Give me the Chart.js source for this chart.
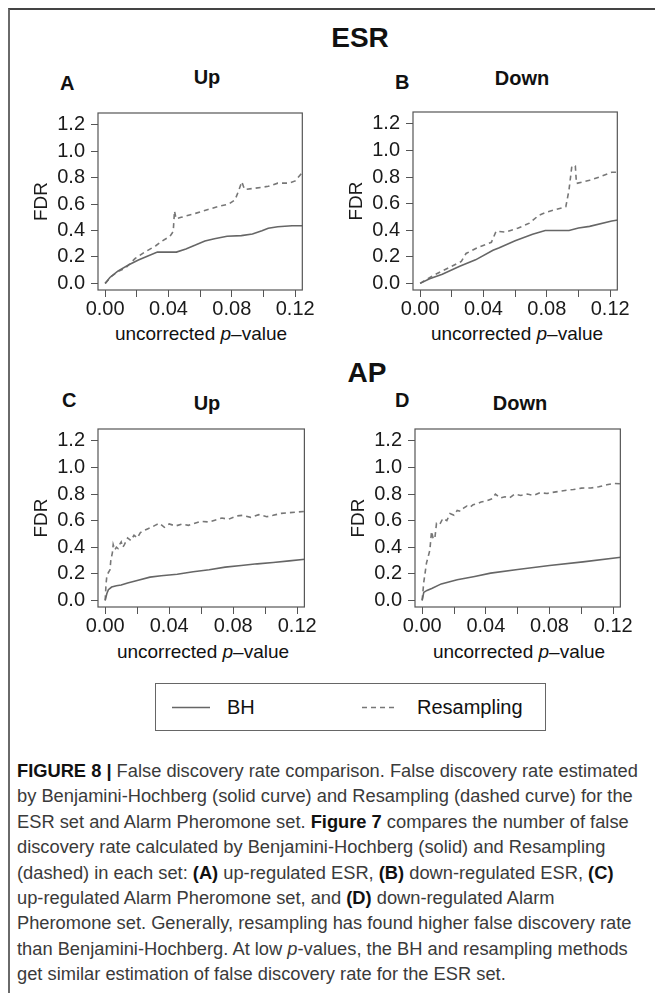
<!DOCTYPE html>
<html>
<head>
<meta charset="utf-8">
<script src="https://cdn.jsdelivr.net/npm/chart.js@4.4.0/dist/chart.umd.min.js"></script>
<style>
  body { margin: 0; background: #fff; font-family: "Liberation Sans", Arial, Helvetica, sans-serif; }
  #page { position: relative; width: 655px; height: 993px; overflow: hidden; background: #fff; }
  .frame { position: absolute; left: 8px; top: 8px; right: -4px; bottom: -4px;
           border-top: 2px solid #444; border-left: 2px solid #6a6a6a; }
  .t { position: absolute; white-space: nowrap; line-height: 1; color: #111; }
  .c { transform: translateX(-50%); }
  .b { font-weight: bold; }
  canvas { position: absolute; }
  .legend { position: absolute; left: 155px; top: 683px; width: 389px; height: 46px;
            border: 1px solid #666; }
  .legend svg { position: absolute; left: 0; top: 0; }
  .legend span { position: absolute; top: 13px; font-size: 20px; line-height: 20px; color: #111; }
  .caption { position: absolute; left: 17px; top: 758px; font-size: 18.3px; line-height: 25.4px;
             color: #3a3a3a; white-space: nowrap; }
  .caption b { color: #111; }
</style>
</head>
<body>
<div id="page">
  <div class="frame"></div>

  <div class="t b c" style="left:360px;top:24px;font-size:28px">ESR</div>
  <div class="t b c" style="left:367px;top:359px;font-size:28px">AP</div>

  <div class="t b" style="left:60px;top:73px;font-size:20px">A</div>
  <div class="t b c" style="left:207px;top:67px;font-size:20px">Up</div>
  <div class="t b" style="left:395px;top:72px;font-size:20px">B</div>
  <div class="t b c" style="left:522px;top:68px;font-size:20px">Down</div>
  <div class="t b" style="left:62px;top:390px;font-size:20px">C</div>
  <div class="t b c" style="left:207px;top:393px;font-size:20px">Up</div>
  <div class="t b" style="left:395px;top:390px;font-size:20px">D</div>
  <div class="t b c" style="left:520px;top:393px;font-size:20px">Down</div>

  <div class="t c" style="left:201px;top:324px;font-size:19px">uncorrected <i>p</i>&ndash;value</div>
  <div class="t c" style="left:517px;top:324px;font-size:19px">uncorrected <i>p</i>&ndash;value</div>
  <div class="t c" style="left:203px;top:642px;font-size:19px">uncorrected <i>p</i>&ndash;value</div>
  <div class="t c" style="left:519px;top:642px;font-size:19px">uncorrected <i>p</i>&ndash;value</div>

  <canvas id="chartA"></canvas>
  <canvas id="chartB"></canvas>
  <canvas id="chartC"></canvas>
  <canvas id="chartD"></canvas>

  <div class="legend">
    <svg width="389" height="46">
      <line x1="16" y1="23.5" x2="54" y2="23.5" stroke="#666" stroke-width="1.6"/>
      <line x1="206" y1="23.5" x2="238" y2="23.5" stroke="#777" stroke-width="1.6" stroke-dasharray="5,4"/>
    </svg>
    <span style="left:71px">BH</span>
    <span style="left:261px">Resampling</span>
  </div>

  <div class="caption">
    <b>FIGURE 8 |</b> False discovery rate comparison. False discovery rate estimated<br>
    by Benjamini-Hochberg (solid curve) and Resampling (dashed curve) for the<br>
    ESR set and Alarm Pheromone set. <b>Figure 7</b> compares the number of false<br>
    discovery rate calculated by Benjamini-Hochberg (solid) and Resampling<br>
    (dashed) in each set: <b>(A)</b> up-regulated ESR, <b>(B)</b> down-regulated ESR, <b>(C)</b><br>
    up-regulated Alarm Pheromone set, and <b>(D)</b> down-regulated Alarm<br>
    Pheromone set. Generally, resampling has found higher false discovery rate<br>
    than Benjamini-Hochberg. At low <i>p</i>-values, the BH and resampling methods<br>
    get similar estimation of false discovery rate for the ESR set.
  </div>
</div>

<script>
// axis ticks shared by all four panels
const xTicks = [0, 0.02, 0.04, 0.06, 0.08, 0.10, 0.12];
const yTicks = [0, 0.2, 0.4, 0.6, 0.8, 1.0, 1.2];

// ESR, up-regulated
const xBhA  = [0, 0.003, 0.008, 0.015, 0.021, 0.027, 0.033, 0.045, 0.051, 0.057, 0.063, 0.069, 0.077, 0.086, 0.093, 0.099, 0.103, 0.109, 0.118, 0.125];
const yBhA  = [0, 0.045, 0.093, 0.141, 0.177, 0.208, 0.237, 0.237, 0.261, 0.29, 0.321, 0.338, 0.357, 0.362, 0.374, 0.398, 0.417, 0.429, 0.436, 0.436];
const xResA = [0, 0.004, 0.008, 0.013, 0.019, 0.025, 0.032, 0.036, 0.041, 0.043, 0.0438, 0.0448, 0.048, 0.057, 0.065, 0.072, 0.078, 0.082, 0.084, 0.0863, 0.088, 0.095, 0.103, 0.109, 0.116, 0.12, 0.125];
const yResA = [0, 0.053, 0.089, 0.117, 0.189, 0.237, 0.285, 0.321, 0.357, 0.393, 0.548, 0.489, 0.50, 0.53, 0.56, 0.584, 0.60, 0.632, 0.692, 0.769, 0.711, 0.721, 0.735, 0.759, 0.759, 0.776, 0.848];

// ESR, down-regulated
const xBhB  = [0, 0.006, 0.014, 0.025, 0.035, 0.046, 0.05, 0.06, 0.071, 0.079, 0.094, 0.1, 0.107, 0.121, 0.125];
const yBhB  = [0, 0.034, 0.069, 0.129, 0.177, 0.249, 0.268, 0.321, 0.369, 0.398, 0.398, 0.417, 0.429, 0.469, 0.477];
const xResB = [0, 0.008, 0.014, 0.02, 0.026, 0.029, 0.037, 0.045, 0.048, 0.054, 0.062, 0.069, 0.075, 0.08, 0.092, 0.094, 0.0958, 0.098, 0.0987, 0.107, 0.113, 0.121, 0.125];
const yResB = [0, 0.057, 0.093, 0.129, 0.165, 0.225, 0.273, 0.309, 0.393, 0.386, 0.417, 0.453, 0.513, 0.537, 0.577, 0.704, 0.884, 0.884, 0.752, 0.776, 0.80, 0.836, 0.836];

// Alarm Pheromone, up-regulated
const xBhC  = [0, 0.001, 0.002, 0.004, 0.007, 0.01, 0.014, 0.02, 0.028, 0.035, 0.045, 0.055, 0.065, 0.075, 0.085, 0.095, 0.105, 0.115, 0.125];
const yBhC  = [0, 0.05, 0.08, 0.10, 0.11, 0.115, 0.13, 0.15, 0.175, 0.185, 0.197, 0.215, 0.23, 0.25, 0.262, 0.275, 0.285, 0.297, 0.31];
const xResC = [0, 0.0005, 0.001, 0.002, 0.003, 0.0035, 0.0045, 0.005, 0.006, 0.007, 0.008, 0.009, 0.010, 0.011, 0.012, 0.014, 0.016, 0.018, 0.020, 0.022, 0.025, 0.029, 0.032, 0.034, 0.037, 0.040, 0.044, 0.048, 0.052, 0.056, 0.060, 0.065, 0.069, 0.073, 0.077, 0.082, 0.086, 0.091, 0.096, 0.101, 0.105, 0.110, 0.115, 0.120, 0.125];
const yResC = [0, 0.12, 0.18, 0.21, 0.23, 0.30, 0.36, 0.42, 0.38, 0.40, 0.39, 0.42, 0.44, 0.40, 0.42, 0.47, 0.45, 0.49, 0.47, 0.51, 0.53, 0.55, 0.57, 0.58, 0.55, 0.575, 0.56, 0.575, 0.565, 0.58, 0.595, 0.59, 0.605, 0.62, 0.61, 0.635, 0.64, 0.625, 0.645, 0.63, 0.64, 0.655, 0.66, 0.665, 0.67];

// Alarm Pheromone, down-regulated
const xBhD  = [0, 0.001, 0.003, 0.006, 0.012, 0.022, 0.033, 0.043, 0.06, 0.08, 0.101, 0.125];
const yBhD  = [0, 0.06, 0.075, 0.09, 0.124, 0.155, 0.18, 0.205, 0.232, 0.262, 0.29, 0.325];
const xResD = [0, 0.001, 0.0027, 0.0048, 0.0059, 0.007, 0.008, 0.009, 0.011, 0.013, 0.0155, 0.0175, 0.02, 0.022, 0.024, 0.026, 0.028, 0.030, 0.032, 0.034, 0.037, 0.0406, 0.044, 0.046, 0.049, 0.052, 0.055, 0.058, 0.062, 0.066, 0.07, 0.074, 0.0785, 0.083, 0.087, 0.091, 0.095, 0.1, 0.106, 0.111, 0.116, 0.12, 0.125];
const yResD = [0, 0.135, 0.28, 0.376, 0.52, 0.46, 0.47, 0.58, 0.57, 0.617, 0.60, 0.653, 0.64, 0.677, 0.67, 0.694, 0.71, 0.70, 0.72, 0.725, 0.74, 0.749, 0.765, 0.80, 0.77, 0.78, 0.773, 0.80, 0.79, 0.80, 0.79, 0.81, 0.805, 0.815, 0.822, 0.83, 0.834, 0.845, 0.846, 0.855, 0.87, 0.88, 0.877];

// plot box of each panel on the page: left, top, width, height
const panels = [
  { id: 'chartA', box: [98, 103, 207, 187], bh: [xBhA, yBhA], res: [xResA, yResA] },
  { id: 'chartB', box: [413, 102, 207, 188], bh: [xBhB, yBhB], res: [xResB, yResB] },
  { id: 'chartC', box: [98, 419, 209, 188], bh: [xBhC, yBhC], res: [xResC, yResC] },
  { id: 'chartD', box: [415, 419, 208, 188], bh: [xBhD, yBhD], res: [xResD, yResD] },
];

const FONT = '"Liberation Sans", Arial, Helvetica, sans-serif';
const LEFT = 78, TOP = 8, RIGHT = 10, BOTTOM = 40;

const pairs = (xs, ys) => xs.map((x, i) => ({ x, y: ys[i] }));

// R-style closed box around the plotting region
const boxPlugin = {
  id: 'plotBox',
  afterDraw(chart) {
    const { ctx, chartArea: a } = chart;
    ctx.save();
    ctx.strokeStyle = '#555';
    ctx.lineWidth = 1.2;
    ctx.strokeRect(a.left, a.top, a.right - a.left, a.bottom - a.top);
    ctx.restore();
  }
};

panels.forEach(p => {
  const [bx, by, bw, bh] = p.box;
  const canvas = document.getElementById(p.id);
  canvas.width = bw + LEFT + RIGHT;
  canvas.height = bh + TOP + BOTTOM;
  canvas.style.left = (bx - LEFT) + 'px';
  canvas.style.top = (by - TOP) + 'px';

  new Chart(canvas, {
    type: 'line',
    data: {
      datasets: [
        {
          label: 'BH',
          data: pairs(p.bh[0], p.bh[1]),
          borderColor: '#666',
          borderWidth: 1.6,
          pointRadius: 0,
          tension: 0,
        },
        {
          label: 'Resampling',
          data: pairs(p.res[0], p.res[1]),
          borderColor: '#777',
          borderWidth: 1.6,
          borderDash: [5, 4],
          pointRadius: 0,
          tension: 0,
        }
      ]
    },
    options: {
      responsive: false,
      animation: false,
      events: [],
      layout: { padding: { top: TOP, right: RIGHT, left: 0, bottom: 0 } },
      plugins: { legend: { display: false }, tooltip: { enabled: false } },
      scales: {
        x: {
          type: 'linear',
          min: -0.0045,
          max: 0.1245,
          afterBuildTicks: s => { s.ticks = xTicks.map(v => ({ value: v })); },
          afterFit: s => { s.height = BOTTOM; },
          ticks: {
            autoSkip: false,
            maxRotation: 0,
            padding: 0,
            color: '#1a1a1a',
            font: { family: FONT, size: 20 },
            callback: (v, i) => (i % 2 ? '' : Number(v).toFixed(2))
          },
          grid: { drawOnChartArea: false, drawTicks: true, tickLength: 7, color: '#555' },
          border: { display: false }
        },
        y: {
          min: -0.05,
          max: 1.29,
          afterBuildTicks: s => { s.ticks = yTicks.map(v => ({ value: v })); },
          afterFit: s => { s.width = LEFT; },
          ticks: {
            padding: 6,
            color: '#1a1a1a',
            font: { family: FONT, size: 20 },
            callback: v => Number(v).toFixed(1)
          },
          title: {
            display: true,
            text: 'FDR',
            color: '#1a1a1a',
            font: { family: FONT, size: 19 },
            padding: { top: 10, bottom: 0 }
          },
          grid: { drawOnChartArea: false, drawTicks: true, tickLength: 7, color: '#555' },
          border: { display: false }
        }
      }
    },
    plugins: [boxPlugin]
  });
});
</script>
</body>
</html>
